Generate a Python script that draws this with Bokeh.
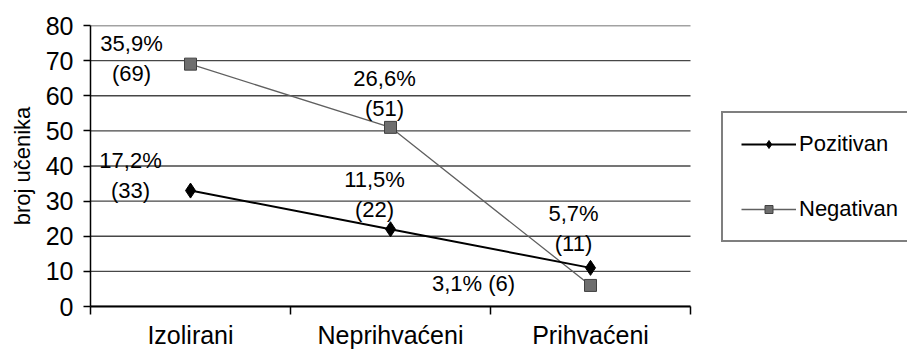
from bokeh.plotting import figure
from bokeh.models import Range1d, FixedTicker, ColumnDataSource, Legend, LegendItem
from bokeh.core.properties import value
from bokeh.embed import file_html
from bokeh.resources import INLINE

categories = ["Izolirani", "Neprihvaćeni", "Prihvaćeni"]
pozitivan = [33, 22, 11]
negativan = [69, 51, 6]
pozitivan_pct = ["17,2%", "11,5%", "5,7%"]
negativan_pct = ["35,9%", "26,6%", "3,1%"]
y_ticks = [0, 10, 20, 30, 40, 50, 60, 70, 80]

FONT = "Liberation Sans"
FS = "22px"

W, H = 907, 351
LEFT, TOP, BOTTOM = 90, 25, 40
CAT_PX = 200  # pixels per category band
n = len(categories)
x_end = (W - LEFT) / CAT_PX

xs = [i + 0.5 for i in range(n)]

p = figure(width=W, height=H, output_backend="svg", toolbar_location=None,
           x_range=Range1d(0, x_end), y_range=Range1d(0, y_ticks[-1]),
           min_border_left=LEFT, min_border_right=0, min_border_top=TOP, min_border_bottom=BOTTOM)
p.outline_line_color = None
p.background_fill_color = "white"
p.border_fill_color = "white"

# grid (horizontal lines limited to the category area)
p.xgrid.visible = False
p.ygrid.visible = False
p.segment(x0=[0] * len(y_ticks), x1=[n] * len(y_ticks), y0=y_ticks, y1=y_ticks,
          line_color="#474747", line_width=1.4)

# y axis
yax = p.yaxis[0]
yax.ticker = FixedTicker(ticks=y_ticks)
yax.axis_line_color = "black"
yax.axis_line_width = 1.5
yax.major_tick_out = 7
yax.major_tick_in = 0
yax.major_tick_line_color = "black"
yax.major_tick_line_width = 1.5
yax.minor_tick_line_color = None
yax.major_label_text_font = FONT
yax.major_label_text_font_size = "25px"
yax.major_label_text_color = "black"
yax.major_label_standoff = 10
yax.axis_label = "broj učenika"
yax.axis_label_text_font = FONT
yax.axis_label_text_font_size = FS
yax.axis_label_text_font_style = "normal"
yax.axis_label_text_color = "black"
yax.axis_label_standoff = 8

# x axis: labels at category centres, ticks at category boundaries
xax = p.xaxis[0]
xax.bounds = (0, n)
xax.ticker = FixedTicker(ticks=xs, minor_ticks=list(range(n + 1)))
xax.major_label_overrides = {x: c for x, c in zip(xs, categories)}
xax.major_tick_line_color = None
xax.major_tick_out = 0
xax.major_tick_in = 0
xax.minor_tick_out = 8
xax.minor_tick_in = 0
xax.minor_tick_line_color = "black"
xax.minor_tick_line_width = 1.5
xax.axis_line_color = "black"
xax.axis_line_width = 2
xax.major_label_text_font = FONT
xax.major_label_text_font_size = "25px"
xax.major_label_text_color = "black"
xax.major_label_standoff = 6

# series
l_neg = p.line(xs, negativan, line_color="#606060", line_width=1.3)
m_neg = p.scatter(xs, negativan, marker="square", size=12, fill_color="#6e6e6e", line_color="#404040", line_width=1)
l_poz = p.line(xs, pozitivan, line_color="black", line_width=2)
m_poz = p.scatter(xs, pozitivan, marker="diamond", size=15, fill_color="black", line_color="black")

# data labels
neg_text = [f"{pc}\n({v})" for pc, v in zip(negativan_pct, negativan)]
neg_text[-1] = f"{negativan_pct[-1]} ({negativan[-1]})"
poz_text = [f"{pc}\n({v})" for pc, v in zip(pozitivan_pct, pozitivan)]

lab = ColumnDataSource(dict(
    x=xs + xs,
    y=negativan + pozitivan,
    text=neg_text + poz_text,
    dx=[-59, -6, -117, -60, -16, -17],
    dy=[-6, -34, -2, -15, -35, -39],
))
p.text(x="x", y="y", text="text", x_offset="dx", y_offset="dy", source=lab,
       text_font=value(FONT), text_font_size=FS, text_color="black",
       text_align="center", text_baseline="middle", text_line_height=1.2)

legend = Legend(items=[LegendItem(label="Pozitivan", renderers=[l_poz, m_poz]),
                       LegendItem(label="Negativan", renderers=[l_neg, m_neg])],
                location=(631, 64))
legend.label_text_font = FONT
legend.label_text_font_size = FS
legend.label_text_color = "black"
legend.glyph_width = 55
legend.glyph_height = 20
legend.label_height = 20
legend.label_standoff = 3
legend.spacing = 39
legend.padding = 18
legend.margin = 0
legend.border_line_color = "black"
legend.border_line_width = 2
legend.background_fill_color = "white"
legend.background_fill_alpha = 1
p.add_layout(legend, "center")

open("out.html", "w").write(file_html(p, INLINE))
